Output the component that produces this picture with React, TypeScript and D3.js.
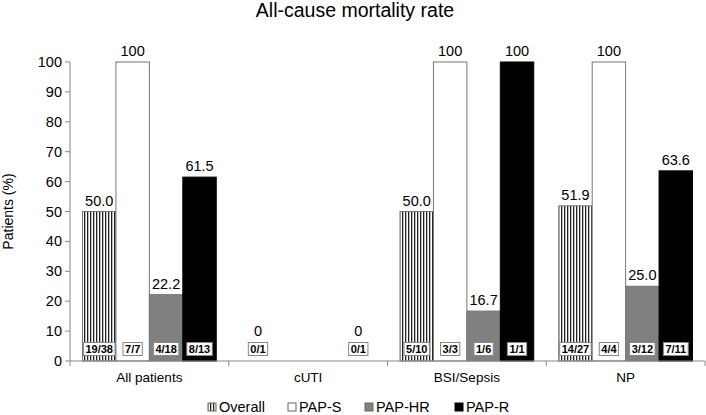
import React, { useEffect, useRef } from "react";
import * as d3 from "d3";

const title = "All-cause mortality rate";
const categories = ["All patients", "cUTI", "BSI/Sepsis", "NP"];
const seriesNames = ["Overall", "PAP-S", "PAP-HR", "PAP-R"];
// null = no bar
const overall = [50.0, 0, 50.0, 51.9];
const papS = [100, null, 100, 100];
const papHR = [22.2, null, 16.7, 25.0];
const papR = [61.5, 0, 100, 63.6];
const overallFrac = ["19/38", "0/1", "5/10", "14/27"];
const papSFrac = ["7/7", null, "3/3", "4/4"];
const papHRFrac = ["4/18", null, "1/6", "3/12"];
const papRFrac = ["8/13", "0/1", "1/1", "7/11"];
const yTicks = [0, 10, 20, 30, 40, 50, 60, 70, 80, 90, 100];

const fills = ["url(#stripes)", "#ffffff", "#808080", "#000000"];

function App() {
  const ref = useRef(null);

  useEffect(() => {
    const width = 706;
    const height = 415;
    const m = { top: 62, right: 1, bottom: 54, left: 70 };
    const font = "Liberation Sans, Arial, sans-serif";

    document.body.style.margin = "0";
    d3.select(ref.current).select("svg").remove();

    const svg = d3
      .select(ref.current)
      .append("svg")
      .attr("width", width)
      .attr("height", height)
      .style("display", "block")
      .style("font-family", font);

    const defs = svg.append("defs");
    const pat = defs
      .append("pattern")
      .attr("id", "stripes")
      .attr("patternUnits", "userSpaceOnUse")
      .attr("width", 3)
      .attr("height", 3);
    pat.append("rect").attr("width", 3).attr("height", 3).attr("fill", "#fff");
    pat.append("rect").attr("x", 0).attr("width", 1.3).attr("height", 3).attr("fill", "#222");

    const x0 = d3
      .scaleBand()
      .domain(categories)
      .range([m.left, width - m.right])
      .paddingInner(0)
      .paddingOuter(0);
    const x1 = d3
      .scaleBand()
      .domain(seriesNames)
      .range([12.5, x0.bandwidth() - 12.5])
      .padding(0);
    const y = d3.scaleLinear().domain([0, 100]).range([height - m.bottom, m.top]);

    svg
      .append("text")
      .attr("x", 355)
      .attr("y", 17)
      .attr("text-anchor", "middle")
      .style("font-size", "19.5px")
      .text(title);

    const series = [
      { name: seriesNames[0], vals: overall, fracs: overallFrac, fmt: (v) => v.toFixed(1) },
      { name: seriesNames[1], vals: papS, fracs: papSFrac, fmt: (v) => (v === 100 ? "100" : v.toFixed(1)) },
      { name: seriesNames[2], vals: papHR, fracs: papHRFrac, fmt: (v) => v.toFixed(1) },
      { name: seriesNames[3], vals: papR, fracs: papRFrac, fmt: (v) => (v === 100 ? "100" : v.toFixed(1)) },
    ];

    series.forEach((s, si) => {
      const items = categories
        .map((c, ci) => ({ c, v: s.vals[ci], f: s.fracs[ci] }))
        .filter((d) => d.v !== null);
      const g = svg.append("g");
      g.selectAll("rect")
        .data(items.filter((d) => d.v > 0))
        .enter()
        .append("rect")
        .attr("x", (d) => x0(d.c) + x1(s.name))
        .attr("width", x1.bandwidth())
        .attr("y", (d) => y(d.v))
        .attr("height", (d) => y(0) - y(d.v))
        .attr("fill", fills[si])
        .attr("stroke", si === 3 ? "#000" : "#777")
        .attr("stroke-width", 1);

      g.selectAll("text.val")
        .data(items)
        .enter()
        .append("text")
        .attr("class", "val")
        .attr("x", (d) => x0(d.c) + x1(s.name) + x1.bandwidth() / 2)
        // zero bars: label sits above the count box
        .attr("y", (d) => (d.v === 0 ? y(0) - 25 : y(d.v) - 6))
        .attr("text-anchor", "middle")
        .style("font-size", "14.5px")
        .text((d) => (d.v === 0 ? "0" : s.fmt(d.v)));

      const fg = g
        .selectAll("g.frac")
        .data(items)
        .enter()
        .append("g")
        .attr("class", "frac")
        .attr(
          "transform",
          (d) => `translate(${x0(d.c) + x1(s.name) + x1.bandwidth() / 2},${y(0) - 12})`
        );
      fg.each(function (d) {
        const gg = d3.select(this);
        const t = gg
          .append("text")
          .attr("text-anchor", "middle")
          .attr("y", 4)
          .style("font-size", "11px")
          .style("font-weight", "bold")
          .text(d.f);
        const w = t.node().getComputedTextLength();
        gg.insert("rect", "text")
          .attr("x", -w / 2 - 2)
          .attr("y", -6.5)
          .attr("width", w + 4)
          .attr("height", 13)
          .attr("fill", "#fff")
          .attr("stroke", "#888")
          .attr("stroke-width", 1);
      });
    });

    // y axis
    const axisColor = "#888";
    const yAxis = svg.append("g").attr("transform", `translate(${m.left},0)`);
    yAxis
      .append("line")
      .attr("x1", 0)
      .attr("x2", 0)
      .attr("y1", y(0))
      .attr("y2", y(100))
      .attr("stroke", axisColor);
    yAxis
      .selectAll("line.tick")
      .data(yTicks)
      .enter()
      .append("line")
      .attr("class", "tick")
      .attr("x1", -5)
      .attr("x2", 0)
      .attr("y1", (d) => y(d))
      .attr("y2", (d) => y(d))
      .attr("stroke", axisColor);
    yAxis
      .selectAll("text")
      .data(yTicks)
      .enter()
      .append("text")
      .attr("x", -8)
      .attr("y", (d) => y(d) + 5)
      .attr("text-anchor", "end")
      .style("font-size", "14.5px")
      .text((d) => d);

    svg
      .append("text")
      .attr("transform", `translate(13,${(y(0) + y(100)) / 2}) rotate(-90)`)
      .attr("text-anchor", "middle")
      .style("font-size", "14px")
      .text("Patients (%)");

    // x axis
    const xAxis = svg.append("g");
    xAxis
      .append("line")
      .attr("x1", m.left)
      .attr("x2", width - m.right)
      .attr("y1", y(0))
      .attr("y2", y(0))
      .attr("stroke", axisColor);
    const bounds = categories.map((c) => x0(c)).concat([x0.range()[1]]);
    xAxis
      .selectAll("line.tick")
      .data(bounds)
      .enter()
      .append("line")
      .attr("class", "tick")
      .attr("x1", (d) => d)
      .attr("x2", (d) => d)
      .attr("y1", y(0))
      .attr("y2", y(0) + 5)
      .attr("stroke", axisColor);
    xAxis
      .selectAll("text")
      .data(categories)
      .enter()
      .append("text")
      .attr("x", (d) => x0(d) + x0.bandwidth() / 2)
      .attr("y", y(0) + 21)
      .attr("text-anchor", "middle")
      .style("font-size", "13.5px")
      .text((d) => d);

    // legend
    const legendX = [208, 288, 365, 455];
    const lg = svg.append("g");
    seriesNames.forEach((n, i) => {
      lg.append("rect")
        .attr("x", legendX[i])
        .attr("y", 403)
        .attr("width", 8)
        .attr("height", 8)
        .attr("fill", fills[i])
        .attr("stroke", i === 3 ? "#000" : "#666");
      lg.append("text")
        .attr("x", legendX[i] + 11)
        .attr("y", 411.5)
        .style("font-size", "14.5px")
        .text(n);
    });
  }, []);

  return <div ref={ref}></div>;
}

export default App;
